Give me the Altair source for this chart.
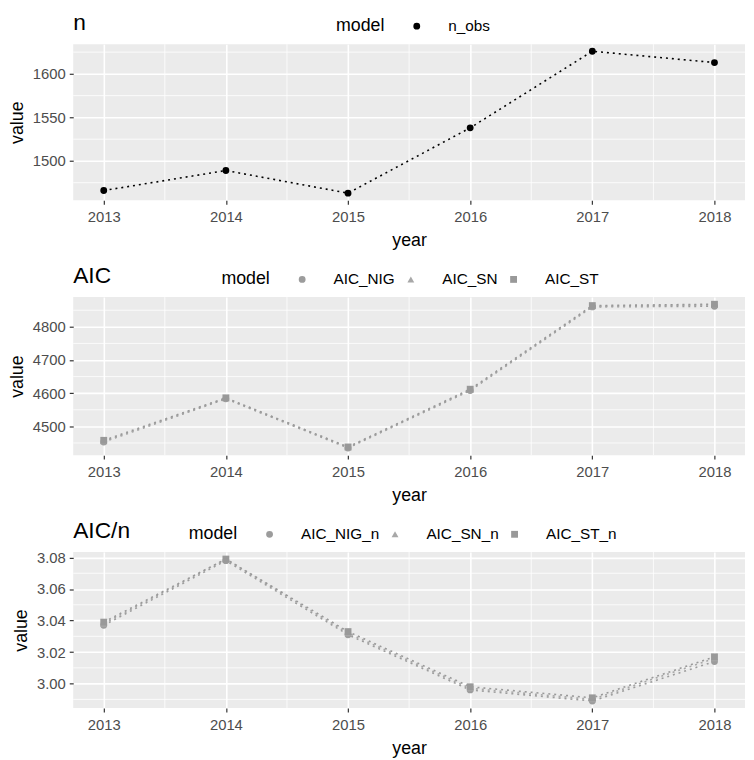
import altair as alt
import pandas as pd

years = [2013, 2014, 2015, 2016, 2017, 2018]
n_obs = [1466, 1489, 1463, 1538, 1626, 1613]
AIC_NIG = [4453, 4583, 4435, 4608, 4860, 4862]
AIC_SN = [4455, 4585, 4437, 4610, 4862, 4866]
AIC_ST = [4458, 4586, 4438, 4612, 4864, 4868]
AIC_NIG_n = [3.037, 3.078, 3.031, 2.996, 2.989, 3.014]
AIC_SN_n = [3.038, 3.079, 3.032, 2.997, 2.990, 3.016]
AIC_ST_n = [3.039, 3.079, 3.033, 2.998, 2.991, 3.017]

x_minor = [2013.5, 2014.5, 2015.5, 2016.5, 2017.5]
y1_major = [1500, 1550, 1600]
y1_minor = [1475, 1525, 1575, 1625]
y2_major = [4500, 4600, 4700, 4800]
y2_minor = [4450, 4550, 4650, 4750, 4850]
y3_major = [3.00, 3.02, 3.04, 3.06, 3.08]
y3_minor = [2.99, 3.01, 3.03, 3.05, 3.07]

FONT = "Liberation Sans"
W = 680


def panel(title, series, y_major, y_minor, fmt, colors, shapes, legend_x, h):
    rows = []
    for name, vals in series:
        for yr, v in zip(years, vals):
            rows.append({"year": yr, "value": v, "model": name})
    df = pd.DataFrame(rows)
    allv = [v for _, vals in series for v in vals]
    lo, hi = min(allv), max(allv)
    pad = (hi - lo) * 0.05
    ydom = [lo - pad, hi + pad]
    xdom = [2012.75, 2018.25]
    names = [n for n, _ in series]

    xs = alt.Scale(domain=xdom, nice=False, zero=False)
    ys = alt.Scale(domain=ydom, nice=False, zero=False)

    xaxis = alt.Axis(values=years, format="d", title="year", grid=True)
    yaxis = alt.Axis(values=y_major, format=fmt, title="value", grid=True)

    minor_x = alt.Chart(pd.DataFrame({"x": x_minor})).mark_rule(
        color="white", strokeWidth=0.8
    ).encode(x=alt.X("x:Q", scale=xs, axis=xaxis))
    minor_y = alt.Chart(pd.DataFrame({"y": y_minor})).mark_rule(
        color="white", strokeWidth=0.8
    ).encode(y=alt.Y("y:Q", scale=ys, axis=yaxis))

    leg = alt.Legend(orient="none", direction="horizontal", titleOrient="left",
                     legendX=legend_x, legendY=-26, title="model")
    color = alt.Color("model:N", scale=alt.Scale(domain=names, range=colors), legend=leg)
    shape = alt.Shape("model:N", scale=alt.Scale(domain=names, range=shapes), legend=leg)

    base = alt.Chart(df)
    lines = base.mark_line(strokeDash=[2, 4], strokeWidth=1.6).encode(
        x=alt.X("year:Q", scale=xs, axis=xaxis),
        y=alt.Y("value:Q", scale=ys, axis=yaxis),
        color=alt.Color("model:N", scale=alt.Scale(domain=names, range=colors), legend=None),
        detail="model:N",
    )
    pts = base.mark_point(filled=True, opacity=1, size=48).encode(
        x=alt.X("year:Q", scale=xs, axis=xaxis),
        y=alt.Y("value:Q", scale=ys, axis=yaxis),
        color=color,
        shape=shape,
    )
    return alt.layer(minor_x, minor_y, lines, pts).properties(
        width=W, height=h,
        title=alt.TitleParams(title, anchor="start", frame="group", fontSize=23, font=FONT,
                              fontWeight="normal", color="black", offset=-17),
    ).resolve_scale(color="independent", shape="independent")


p1 = panel("n", [("n_obs", n_obs)], y1_major, y1_minor, "d",
           ["#000000"], ["circle"], 266, 158)
p2 = panel("AIC", [("AIC_NIG", AIC_NIG), ("AIC_SN", AIC_SN), ("AIC_ST", AIC_ST)],
           y2_major, y2_minor, "d", ["#9c9c9c", "#a8a8a8", "#999999"],
           ["circle", "triangle-up", "square"], 150, 160)
p3 = panel("AIC/n", [("AIC_NIG_n", AIC_NIG_n), ("AIC_SN_n", AIC_SN_n), ("AIC_ST_n", AIC_ST_n)],
           y3_major, y3_minor, ".2f", ["#9c9c9c", "#a8a8a8", "#999999"],
           ["circle", "triangle-up", "square"], 117, 158)

chart = alt.vconcat(p1, p2, p3, spacing=16).resolve_scale(
    color="independent", shape="independent", x="independent", y="independent"
).properties(padding={"left": 0, "top": 0, "right": 0, "bottom": 0}).configure_view(
    fill="#EBEBEB", stroke=None
).configure_axis(
    gridColor="white", gridWidth=1.6, domain=False, tickColor="#333333",
    tickSize=4, tickWidth=1.2, labelColor="#4D4D4D", labelFontSize=15, labelFont=FONT,
    titleFont=FONT, titleFontSize=18, titleFontWeight="normal", titleColor="black",
    labelPadding=4,
).configure_axisX(labelPadding=6, titlePadding=7).configure_axisY(titlePadding=6).configure_legend(
    titleFont=FONT, titleFontSize=18, titleFontWeight="normal", titleColor="black",
    labelFont=FONT, labelFontSize=15.5, labelColor="black", symbolSize=48,
    columnPadding=8, titlePadding=24, labelOffset=24, symbolStrokeWidth=0, padding=0,
).configure_concat(spacing=16)

chart.save("out.html", embed_options={"renderer": "svg", "actions": False})
